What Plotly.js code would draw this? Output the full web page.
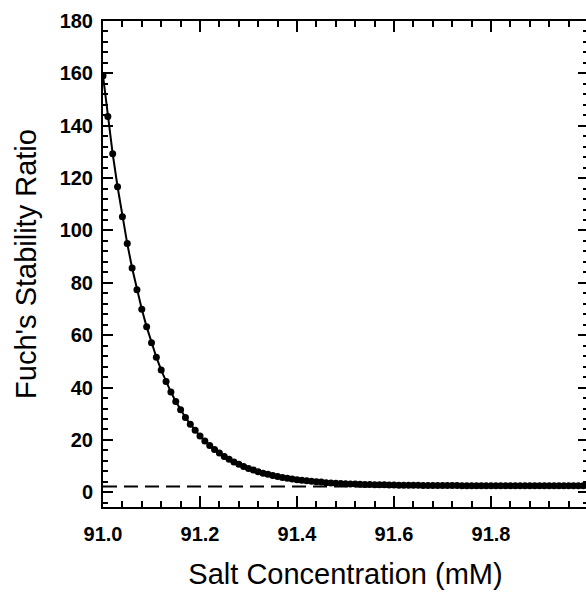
<!DOCTYPE html>
<html>
<head>
<meta charset="utf-8">
<script src="https://cdn.plot.ly/plotly-3.0.1.min.js"></script>
<style>
html, body { margin: 0; padding: 0; overflow: hidden; background: #fff; }
#chart { width: 592px; height: 592px; }
</style>
</head>
<body>
<div id="chart"></div>
<script>
// Salt concentration (mM)
var saltConc = [
  91.00, 91.01, 91.02, 91.03, 91.04, 91.05, 91.06, 91.07, 91.08, 91.09,
  91.10, 91.11, 91.12, 91.13, 91.14, 91.15, 91.16, 91.17, 91.18, 91.19,
  91.20, 91.21, 91.22, 91.23, 91.24, 91.25, 91.26, 91.27, 91.28, 91.29,
  91.30, 91.31, 91.32, 91.33, 91.34, 91.35, 91.36, 91.37, 91.38, 91.39,
  91.40, 91.41, 91.42, 91.43, 91.44, 91.45, 91.46, 91.47, 91.48, 91.49,
  91.50, 91.51, 91.52, 91.53, 91.54, 91.55, 91.56, 91.57, 91.58, 91.59,
  91.60, 91.61, 91.62, 91.63, 91.64, 91.65, 91.66, 91.67, 91.68, 91.69,
  91.70, 91.71, 91.72, 91.73, 91.74, 91.75, 91.76, 91.77, 91.78, 91.79,
  91.80, 91.81, 91.82, 91.83, 91.84, 91.85, 91.86, 91.87, 91.88, 91.89,
  91.90, 91.91, 91.92, 91.93, 91.94, 91.95, 91.96, 91.97, 91.98, 91.99,
  92.00
];
// Fuch's stability ratio
var stabilityRatio = [
  159.1, 143.5, 129.3, 116.7, 105.2, 95.0, 85.7, 77.4, 69.9, 63.2,
  57.1, 51.6, 46.7, 42.3, 38.3, 34.7, 31.5, 28.6, 26.0, 23.7,
  21.5, 19.6, 17.9, 16.4, 15.0, 13.7, 12.6, 11.6, 10.7, 9.9,
  9.1, 8.5, 7.9, 7.3, 6.9, 6.4, 6.0, 5.7, 5.4, 5.1,
  4.8, 4.6, 4.4, 4.2, 4.0, 3.9, 3.7, 3.6, 3.5, 3.4,
  3.3, 3.2, 3.15, 3.09, 3.03, 2.98, 2.93, 2.89, 2.85, 2.81,
  2.78, 2.75, 2.73, 2.71, 2.68, 2.67, 2.65, 2.63, 2.62, 2.61,
  2.60, 2.59, 2.58, 2.57, 2.56, 2.56, 2.55, 2.55, 2.54, 2.54,
  2.53, 2.53, 2.53, 2.52, 2.52, 2.52, 2.52, 2.51, 2.51, 2.51,
  2.51, 2.51, 2.51, 2.50, 2.50, 2.50, 2.50, 2.50, 2.50, 2.50,
  2.50
];
// Dashed reference level
var refX = [91.0, 92.0];
var refY = [2.2, 2.2];

// Tick labels
var xTickVals = [91.0, 91.2, 91.4, 91.6, 91.8];
var xTickText = ["91.0", "91.2", "91.4", "91.6", "91.8"];
var yTickVals = [0, 20, 40, 60, 80, 100, 120, 140, 160, 180];
var yTickText = ["0", "20", "40", "60", "80", "100", "120", "140", "160", "180"];

var traces = [
  {
    x: refX, y: refY, type: 'scatter', mode: 'lines',
    line: { color: '#000', width: 2, dash: '14px,7px' },
    hoverinfo: 'skip', showlegend: false
  },
  {
    x: saltConc, y: stabilityRatio, type: 'scatter', mode: 'lines+markers',
    line: { color: '#000', width: 2 },
    marker: { color: '#000', size: 7, symbol: 'circle' },
    showlegend: false
  }
];

var tickFont = { family: 'Liberation Sans, Arial, sans-serif', size: 20, color: '#000', weight: 'bold' };
var titleFont = { family: 'Liberation Sans, Arial, sans-serif', size: 29, color: '#000' };

var layout = {
  width: 592, height: 592,
  margin: { l: 103, r: 4, t: 21, b: 85 },
  paper_bgcolor: '#fff', plot_bgcolor: '#fff',
  showlegend: false,
  xaxis: {
    range: [91.0, 91.9999],
    tickmode: 'array', tickvals: xTickVals, ticktext: xTickText,
    ticks: 'inside', ticklen: 11, tickwidth: 2, tickcolor: '#000',
    ticklabelstandoff: 8,
    showline: true, linewidth: 2, linecolor: '#000', mirror: 'allticks',
    showgrid: false, zeroline: false,
    tickfont: tickFont,
    minor: { tickmode: 'linear', tick0: 91.0, dtick: 0.04, ticks: 'inside', ticklen: 6, tickwidth: 2, tickcolor: '#000', showgrid: false },
    title: { text: 'Salt Concentration (mM)', font: titleFont, standoff: 20 }
  },
  yaxis: {
    range: [-5.6, 180],
    tickmode: 'array', tickvals: yTickVals, ticktext: yTickText,
    ticks: 'inside', ticklen: 10, tickwidth: 2, tickcolor: '#000',
    ticklabelstandoff: 4,
    showline: true, linewidth: 2, linecolor: '#000', mirror: 'allticks',
    showgrid: false, zeroline: false,
    tickfont: tickFont,
    minor: { tickmode: 'linear', tick0: 0, dtick: 4, ticks: 'inside', ticklen: 5, tickwidth: 2, tickcolor: '#000', showgrid: false },
    title: { text: "Fuch's Stability Ratio", font: titleFont, standoff: 14 }
  }
};

Plotly.newPlot('chart', traces, layout, { displayModeBar: false, staticPlot: true });
</script>
</body>
</html>
